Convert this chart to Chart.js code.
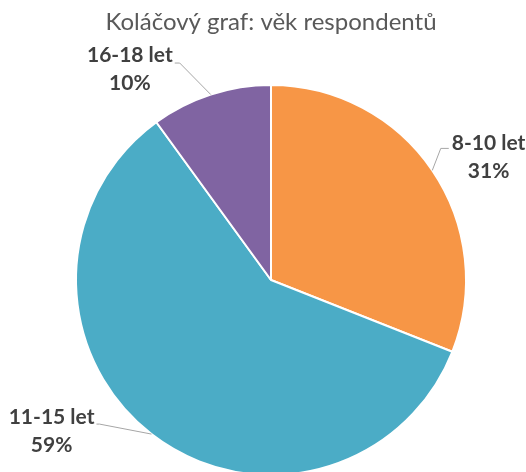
<!DOCTYPE html>
<html>
<head>
<meta charset="utf-8">
<script src="https://cdn.jsdelivr.net/npm/chart.js@4/dist/chart.umd.min.js"></script>
<style>
  html, body { margin: 0; padding: 0; background: #fff; overflow: hidden; }
  .container { width: 526px; height: 490px; }
</style>
</head>
<body>
<div class="container"><canvas id="chart" width="526" height="490"></canvas></div>
<script>
const categories = ['8-10 let', '11-15 let', '16-18 let'];
const percentages = [31, 59, 10];
const valueLabels = ['31%', '59%', '10%'];

const sliceColors = ['#F79646', '#4BACC6', '#8064A2'];
// leader line: [dx, dy from slice edge to elbow, tail length, side, baseline shift]
const leaders = [
  [8.5, -22, 8, 1, 2],
  [-52, -10, 3, -1, 0],
  [-31, -31.5, 5, -1, -1]
];

const outsideLabels = {
  id: 'outsideLabels',
  afterDatasetsDraw(chart) {
    const ctx = chart.ctx;
    const meta = chart.getDatasetMeta(0);
    meta.data.forEach((arc, i) => {
      const p = arc.getProps(['x', 'y', 'startAngle', 'endAngle', 'outerRadius'], true);
      const mid = (p.startAngle + p.endAngle) / 2;
      const ex = p.x + Math.cos(mid) * p.outerRadius;
      const ey = p.y + Math.sin(mid) * p.outerRadius;
      const [dx, dy, tail, side, shift] = leaders[i];
      const bx = ex + dx, by = ey + dy;
      const endX = bx + side * tail;

      ctx.save();
      ctx.strokeStyle = '#A6A6A6';
      ctx.lineWidth = 1;
      ctx.beginPath();
      ctx.moveTo(ex, ey);
      ctx.lineTo(bx, by);
      ctx.lineTo(endX, by);
      ctx.stroke();

      ctx.font = 'bold 21px Lato';
      ctx.fillStyle = '#404040';
      ctx.textAlign = 'center';
      ctx.textBaseline = 'alphabetic';
      const w = Math.max(ctx.measureText(categories[i]).width, ctx.measureText(valueLabels[i]).width);
      const left = side > 0 ? endX + 3 : endX - 2 - w;
      const cx = left + w / 2;
      const base = by + shift;
      ctx.fillText(categories[i], cx, base);
      ctx.fillText(valueLabels[i], cx, base + 28);
      ctx.restore();
    });
  }
};

new Chart(document.getElementById('chart'), {
  type: 'pie',
  data: {
    labels: categories,
    datasets: [{
      data: percentages,
      backgroundColor: sliceColors,
      borderColor: '#ffffff',
      borderWidth: 2
    }]
  },
  options: {
    responsive: false,
    animation: false,
    events: [],
    layout: { padding: { left: 20, right: 4, top: 0, bottom: 14 } },
    plugins: {
      legend: { display: false },
      tooltip: { enabled: false },
      title: {
        display: true,
        text: 'Koláčový graf: věk respondentů',
        color: '#595959',
        font: { family: 'Lato', size: 24, weight: 'normal' },
        padding: { top: 8, bottom: 47.2 }
      }
    }
  },
  plugins: [outsideLabels]
});
</script>
</body>
</html>
